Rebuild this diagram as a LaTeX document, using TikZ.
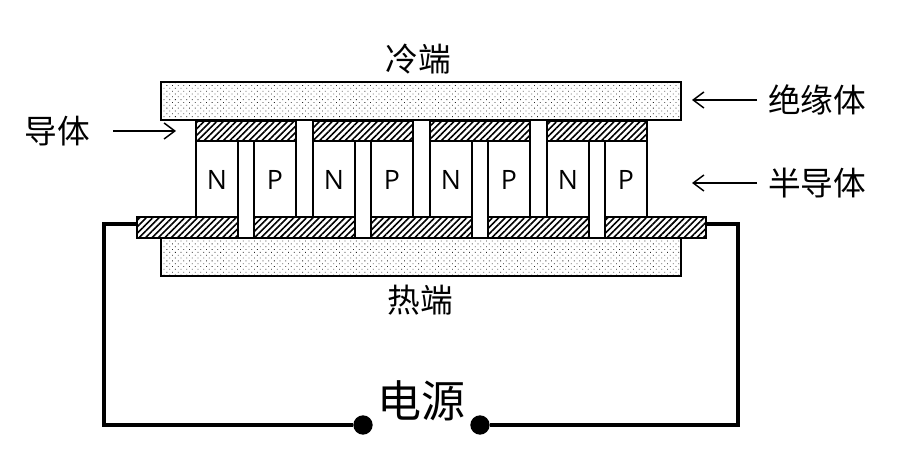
\documentclass[tikz,border=0pt]{standalone}
\usepackage{fontspec}
\setmainfont{Open Sans}
\newfontfamily\cjk{Noto Sans CJK SC}
\usetikzlibrary{patterns.meta,arrows.meta}
\tikzset{
	hatch/.style={draw=black,line width=1.9pt,pattern={Lines[angle=45,distance=3.4pt,line width=1.2pt]},pattern color=black},
	dotted box/.style={draw=black,line width=1.9pt,pattern={Dots[angle=45,distance=3pt,radius=0.42pt]},pattern color=black!85},
	cell/.style={draw=black,line width=1.9pt,fill=white},
	wire/.style={line width=3pt},
	pointer/.style={line width=1.1pt,-{Straight Barb[length=8pt,width=12pt,line width=1.1pt]}},
	term/.style={circle,fill=black,inner sep=0pt,minimum size=14.5pt},
	tag/.style={font=\cjk\fontsize{24.5}{26}\selectfont,inner sep=0pt},
	letter/.style={font=\fontsize{20}{22}\selectfont}
}
\begin{document}
\begin{tikzpicture}[line join=miter, line cap=butt]
				\begin{scope}[x=0.75pt,y=-0.75pt]
					\useasboundingbox (0,0) rectangle (900,473);
					\fill[white](0,0) rectangle (900,473);
					\path (137,224)coordinate(L)(706,224)coordinate(R)(104,224)coordinate(LC)(738,224)coordinate(RC)(104,425)coordinate(LD)(738,425)coordinate(RD);
					\path (176,131)coordinate(Dc)(692,100)coordinate(Jy)(692,183)coordinate(Bd);
					\draw[dotted box](161,82)rectangle(681,120);
					\draw[dotted box](161,238)rectangle(681,276);
					\foreach \x in{196,313,430,547}
					\draw[hatch](\x,120.5)rectangle(\x+100,141);
					\foreach \x in{137,254,371,488,605}
					\draw[hatch](\x,217)rectangle(\x+101,238);
					\foreach \x/\n/\p in{196/a/b,313/c/d,430/e/f,547/g/h}{
						\draw[cell](\x,141)rectangle(\x+42,217);
						\draw[cell](\x+58,141)rectangle(\x+100,217);
						\node[letter](\n) at (\x+21,180){N};
						\node[letter](\p) at (\x+79,180){P};
					}
					\foreach \x in{238,355,472,589}
					\fill[white](\x+1.2,218)rectangle(\x+14.8,237.5);
					\foreach \x in{238,355,472,589}{
						\draw[line width=1.9pt](\x,217)--(\x,238);
						\draw[line width=1.9pt](\x+16,217)--(\x+16,238);
					}
					\node[term](Tl) at (363,425){};
					\node[term](Tr) at (480,425){};
					\draw[wire](L)--(LC)--(LD)--(Tl);
					\draw[wire](R)--(RC)--(RD)--(Tr);
					\node[tag](cold) at (418,59){冷端};
					\node[tag](hot) at (420,300){热端};
					\node[tag](dt) at (57,131){导体};
					\node[tag](jyt) at (817,100){绝缘体};
					\node[tag](bdt) at (817,183){半导体};
					\node[tag,font=\cjk\fontsize{33}{35}\selectfont](dy) at (421,401){电源};
					\draw[pointer](113,131)--(Dc);
					\draw[pointer](757,100)--(Jy);
					\draw[pointer](757,183)--(Bd);
				\end{scope}
		\end{tikzpicture}
\end{document}
